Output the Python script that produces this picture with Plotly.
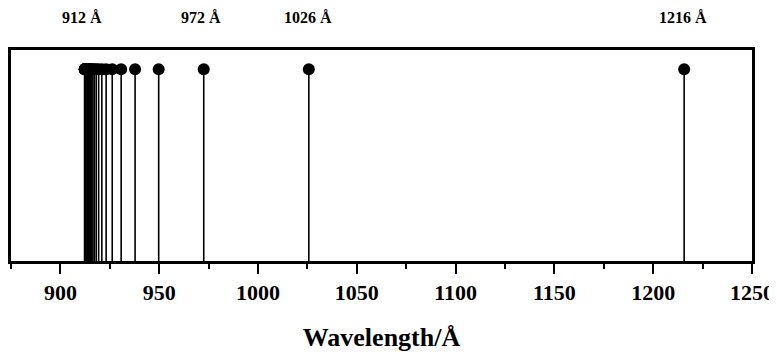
import plotly.graph_objects as go

# Lyman series line wavelengths (Å)
wavelengths = [1215.67, 1025.72, 972.54, 949.74, 937.80, 930.75, 926.23, 923.15,
               920.96, 919.35, 918.13, 917.18, 916.43, 915.82, 915.33, 914.92,
               914.58, 914.29, 914.04, 913.83, 913.64, 913.48, 913.34, 913.21,
               913.10, 913.00, 912.92, 912.84, 912.77, 912.70, 912.64, 912.58,
               912.53, 912.48, 912.44, 912.40, 912.36, 912.33, 912.30, 912.27]
heights = [1.0] * len(wavelengths)

label_x = [910.8, 971.4, 1025.4, 1215.2]
label_text = ["912 Å", "972 Å", "1026 Å", "1216 Å"]

tick_vals = [900, 950, 1000, 1050, 1100, 1150, 1200, 1250]

SERIF = "Liberation Serif, Times New Roman, Times, serif"

sx, sy = [], []
for w, h in zip(wavelengths, heights):
    sx += [w, w, None]
    sy += [0, h, None]

fig = go.Figure()
fig.add_trace(go.Scatter(x=sx, y=sy, mode="lines",
                         line=dict(color="black", width=1.6),
                         hoverinfo="skip", showlegend=False))
fig.add_trace(go.Scatter(x=wavelengths, y=heights, mode="markers",
                         marker=dict(color="black", size=12),
                         showlegend=False))

for x, t in zip(label_x, label_text):
    fig.add_annotation(x=x, y=1.152, xref="x", yref="paper", text=t,
                       showarrow=False, yanchor="middle", xanchor="center",
                       font=dict(family=SERIF, size=16, color="black", weight="bold"))

fig.update_layout(
    width=769, height=344,
    margin=dict(l=3, r=23, t=42, b=91),
    paper_bgcolor="white", plot_bgcolor="white",
    font=dict(family=SERIF, color="black"),
)
fig.update_xaxes(range=[875, 1250], tickvals=tick_vals,
                 ticks="outside", ticklen=10, tickwidth=2, tickcolor="black",
                 minor=dict(dtick=25, tick0=875, ticks="outside", ticklen=5, tickwidth=1.5, tickcolor="black"),
                 showline=True, linecolor="black", linewidth=2.5, mirror=True,
                 showgrid=False, zeroline=False, ticklabeloverflow="allow",
                 tickfont=dict(size=22, family=SERIF, color="black", weight="bold"),
                 title=dict(text="Wavelength/Å", font=dict(size=26, family=SERIF, color="black", weight="bold"), standoff=26))
fig.update_yaxes(range=[0, 1.1], showticklabels=False, ticks="",
                 showline=True, linecolor="black", linewidth=2.5, mirror=True,
                 showgrid=False, zeroline=False)

fig.write_html("out.html")
